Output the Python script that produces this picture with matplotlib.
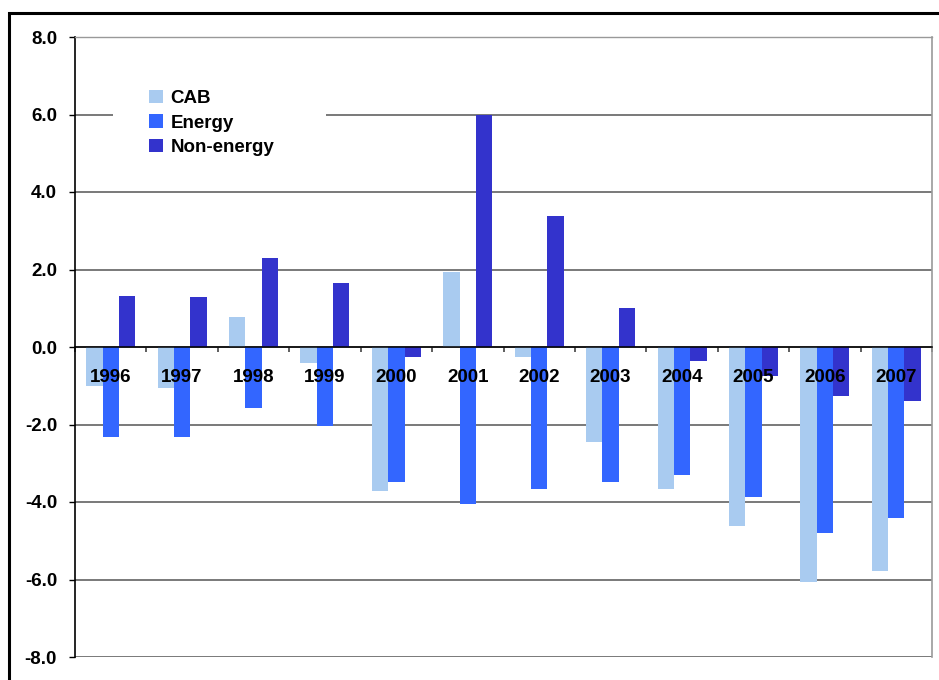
import matplotlib
matplotlib.use("Agg")
import matplotlib.pyplot as plt
from matplotlib.patches import Rectangle, Patch
import numpy as np

plt.rcParams['font.family'] = ['Liberation Sans', 'DejaVu Sans']

years = ['1996', '1997', '1998', '1999', '2000', '2001',
         '2002', '2003', '2004', '2005', '2006', '2007']
cab = [-1.00, -1.05, 0.77, -0.40, -3.71, 1.94,
       -0.26, -2.45, -3.66, -4.61, -6.06, -5.77]
energy = [-2.31, -2.31, -1.57, -2.03, -3.48, -4.04,
          -3.66, -3.48, -3.30, -3.86, -4.79, -4.41]
non_energy = [1.32, 1.29, 2.30, 1.65, -0.26, 6.00,
              3.38, 1.01, -0.35, -0.74, -1.26, -1.39]
series_names = ['CAB', 'Energy', 'Non-energy']
colors = ['#A9CBF0', '#3366FF', '#3333CC']
yticks = [-8, -6, -4, -2, 0, 2, 4, 6, 8]

W, H = 939, 680
FS = 13.5
fig = plt.figure(figsize=(W / 100, H / 100), dpi=100)

# outer frame (only top and left edges fall inside the canvas)
fig.add_artist(Rectangle((9 / W, -0.05), 1.2, 1 - 13 / H + 0.05,
                         transform=fig.transFigure, fill=False,
                         edgecolor='black', linewidth=2.2))

ax = fig.add_axes([75 / W, 1 - 657 / H, (932 - 75) / W, (657 - 37) / H])

x = np.arange(len(years))
bw = 0.229
for k, vals in enumerate([cab, energy, non_energy]):
    ax.bar(x + (k - 1) * bw, vals, width=bw, color=colors[k],
           zorder=2, linewidth=0)

ax.set_xlim(-0.5, len(years) - 0.5)
ax.set_ylim(-8, 8)
ax.set_yticks(yticks)
ax.set_yticklabels([f'{v:.1f}' for v in yticks],
                   fontsize=FS, fontweight='bold')
ax.tick_params(axis='y', direction='out', length=4.3, width=1,
               color='black', pad=8.6)
ax.yaxis.grid(True, color='#555555', linewidth=1.1)
ax.set_axisbelow(True)

# category axis drawn through zero with boundary ticks
ax.spines['bottom'].set_position(('data', 0))
ax.spines['bottom'].set_color('black')
ax.spines['bottom'].set_linewidth(1.1)
ax.spines['bottom'].set_zorder(3)
ax.set_xticks(np.arange(len(years) + 1) - 0.5)
ax.set_xticklabels([])
ax.tick_params(axis='x', direction='out', length=3.6, width=1.1, color='#333333')
ax.spines['left'].set_color('black')
ax.spines['left'].set_linewidth(1.2)
ax.spines['top'].set_color('#999999')
ax.spines['right'].set_color('#999999')
ax.spines['right'].set_linewidth(1.2)
ax.spines['top'].set_linewidth(1.0)

for i, yr in enumerate(years):
    ax.text(i, -0.78, yr, ha='center', va='center', fontsize=FS,
            fontweight='bold', zorder=5)

# white panel behind the legend
ax.add_patch(Rectangle(((112.5 - 75) / 857, (657 - 168) / 620),
                       (326 - 112.5) / 857, 88 / 620,
                       transform=ax.transAxes, facecolor='white',
                       edgecolor='none', zorder=1))

handles = [Patch(facecolor=c, edgecolor='none') for c in colors]
leg = ax.legend(handles, series_names, loc='upper left',
                bbox_to_anchor=((149 - 75) / 857, (657 - 90) / 620),
                frameon=False, borderaxespad=0, borderpad=0,
                handlelength=0.75, handleheight=0.7, handletextpad=0.4,
                labelspacing=0.39, prop={'size': FS, 'weight': 'bold'})
leg.set_zorder(6)

fig.savefig('out.png', dpi=100)
